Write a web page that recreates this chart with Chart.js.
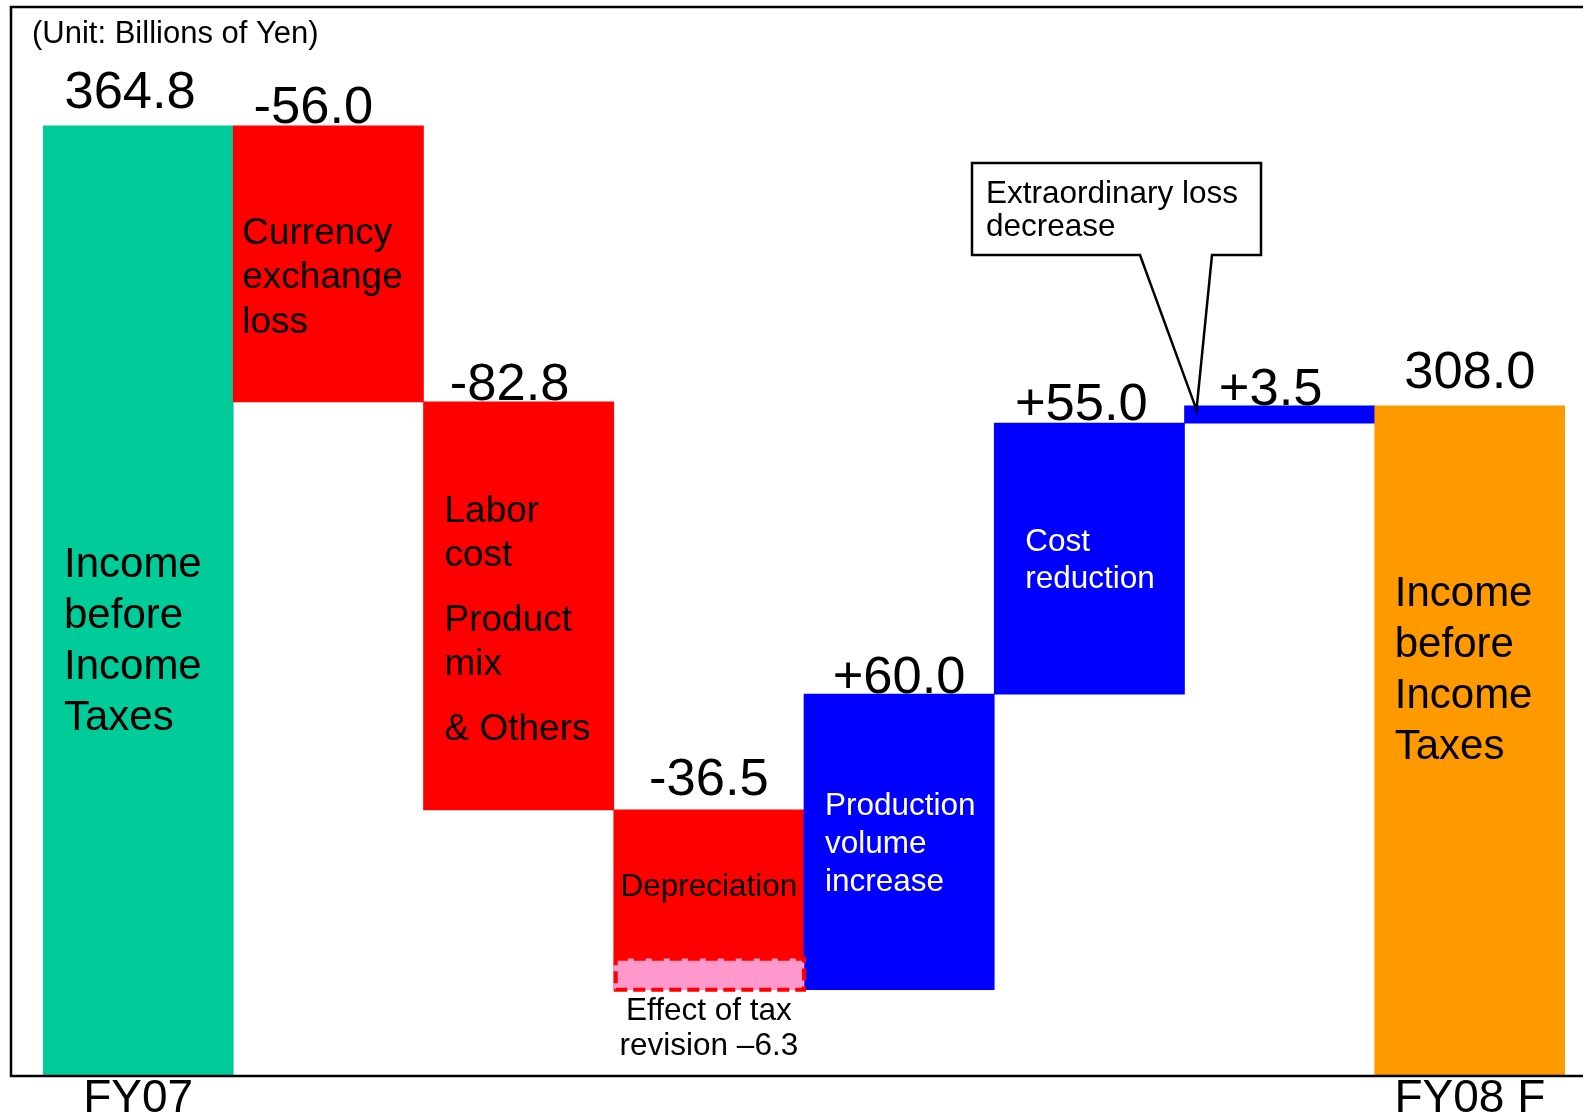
<!DOCTYPE html>
<html>
<head>
<meta charset="utf-8">
<title>Income before Income Taxes: FY07 to FY08 F</title>
<script src="https://cdn.jsdelivr.net/npm/chart.js@4/dist/chart.umd.min.js"></script>
<style>
  html, body { margin: 0; padding: 0; background: #ffffff; }
  #wrap { width: 1583px; height: 1119px; }
</style>
</head>
<body>
<div id="wrap"><canvas id="chart" width="1583" height="1119"></canvas></div>
<script>
// ---- data (billions of yen) ----
const categories = [
  'FY07',
  'Currency exchange loss',
  'Labor cost, Product mix & Others',
  'Depreciation',
  'Production volume increase',
  'Cost reduction',
  'Extraordinary loss decrease',
  'FY08 F'
];
const tickLabels = ['FY07', '', '', '', '', '', '', 'FY08 F'];
const openingTotal = 364.8;
const changes = [-56.0, -82.8, -36.5, 60.0, 55.0, 3.5];
const closingTotal = 308.0;
const taxRevision = -6.3;          // part of the depreciation change
const taxRevisionIndex = 3;        // category that holds it

// ---- styling ----
const FONT = '"Liberation Sans", Arial, Helvetica, sans-serif';
const GREEN = '#00CC99', RED = '#FF0000', BLUE = '#0000FF', ORANGE = '#FF9900', PINK = '#FF99CC';

// value label nudges (px): horizontal shift and lift above bar top
const labelShiftX = [-8, -15, -9, 0, 0, -8, -9, 0];
const labelLift   = [18, 3, 2, 15, 1, 3, 1, 18];

// text printed inside bars
const innerText = [
  { i: 0, paras: [['Income', 'before', 'Income', 'Taxes']], size: 42, lh: 51, color: '#000', dx: 21, frac: 0.54 },
  { i: 1, paras: [['Currency', 'exchange', 'loss']], size: 37, lh: 44.5, color: '#000', dx: 9, frac: 0.54 },
  { i: 2, paras: [['Labor', 'cost'], ['Product', 'mix'], ['& Others']], size: 37, lh: 44, gap: 21, color: '#000', dx: 21, frac: 0.53 },
  { i: 3, paras: [['Depreciation']], size: 31.5, lh: 36, color: '#000', center: true, frac: 0.5, abovePart: true },
  { i: 4, paras: [['Production', 'volume', 'increase']], size: 31.5, lh: 38, color: '#fff', dx: 21, frac: 0.5 },
  { i: 5, paras: [['Cost', 'reduction']], size: 31.5, lh: 37, color: '#fff', dx: 31, frac: 0.5 },
  { i: 7, paras: [['Income', 'before', 'Income', 'Taxes']], size: 42, lh: 51, color: '#000', dx: 20, frac: 0.39 }
];
const taxText = ['Effect of tax', 'revision \u20136.3'];
const calloutText = ['Extraordinary loss', 'decrease'];

// ---- build waterfall ranges from the values ----
const barRanges = [openingTotal];
const barColors = [GREEN];
const valueLabels = [openingTotal.toFixed(1)];
let running = openingTotal;
changes.forEach(d => {
  const from = running, to = running + d;
  barRanges.push([Math.min(from, to), Math.max(from, to)]);
  barColors.push(d < 0 ? RED : BLUE);
  valueLabels.push((d > 0 ? '+' : '') + d.toFixed(1));
  running = to;
});
barRanges.push(closingTotal);
barColors.push(ORANGE);
valueLabels.push(closingTotal.toFixed(1));

// tax-revision slice sits at the bottom of the depreciation bar
const taxRanges = categories.map(() => null);
{
  const dep = barRanges[taxRevisionIndex];
  taxRanges[taxRevisionIndex] = [dep[0], dep[0] - taxRevision];
}

let plotBottom = 0;
function topOf(el) { return Math.min(el.y, el.base); }
function bottomOf(el) { return Math.min(Math.max(el.y, el.base), plotBottom); }

function drawBlock(ctx, spec, left, width, regionTop, regionBottom, firstBaseline) {
  const capH = spec.size * 0.716;
  let span = capH;
  const lines = [];
  spec.paras.forEach(p => {
    p.forEach((t, li) => {
      lines.push({ t, adv: lines.length === 0 ? 0 : (li === 0 ? spec.lh + (spec.gap || 0) : spec.lh) });
    });
  });
  lines.forEach(l => { span += l.adv; });
  let y;
  if (firstBaseline !== undefined) {
    y = firstBaseline;
  } else {
    const centerY = regionTop + spec.frac * (regionBottom - regionTop);
    y = centerY - span / 2 + capH;
  }
  ctx.save();
  ctx.font = spec.size + 'px ' + FONT;
  ctx.fillStyle = spec.color;
  ctx.textBaseline = 'alphabetic';
  ctx.textAlign = spec.center ? 'center' : 'left';
  const x = spec.center ? left + width / 2 : left + spec.dx;
  lines.forEach(l => {
    y += l.adv;
    ctx.fillText(l.t, x, y);
  });
  ctx.restore();
}

const decorations = {
  id: 'decorations',
  afterDatasetsDraw(chart) {
    const ctx = chart.ctx;
    plotBottom = chart.chartArea.bottom;
    const bars = chart.getDatasetMeta(1).data;
    const taxBar = chart.getDatasetMeta(0).data[taxRevisionIndex];

    // dashed outline around the tax-revision slice
    const tL = taxBar.x - taxBar.width / 2, tT = topOf(taxBar), tB = bottomOf(taxBar);
    ctx.save();
    ctx.strokeStyle = RED;
    ctx.lineWidth = 4;
    ctx.setLineDash([12, 6]);
    ctx.strokeRect(tL + 2, tT, taxBar.width - 2, tB - tT);
    ctx.restore();

    // frame: top, left and baseline
    ctx.save();
    ctx.strokeStyle = '#000';
    ctx.lineWidth = 2.5;
    ctx.beginPath();
    ctx.moveTo(1583, 7); ctx.lineTo(11, 7); ctx.lineTo(11, plotBottom); ctx.lineTo(1583, plotBottom);
    ctx.stroke();
    ctx.restore();

    // unit note
    ctx.save();
    ctx.font = '31px ' + FONT;
    ctx.fillStyle = '#000';
    ctx.textBaseline = 'alphabetic';
    ctx.fillText('(Unit: Billions of Yen)', 32, 43);
    ctx.restore();

    // value labels above each bar
    ctx.save();
    ctx.font = '52.5px ' + FONT;
    ctx.fillStyle = '#000';
    ctx.textAlign = 'center';
    ctx.textBaseline = 'alphabetic';
    bars.forEach((el, i) => {
      ctx.fillText(valueLabels[i], el.x + labelShiftX[i], topOf(el) - labelLift[i]);
    });
    ctx.restore();

    // text inside bars
    innerText.forEach(spec => {
      const el = bars[spec.i];
      const left = el.x - el.width / 2;
      const bottom = spec.abovePart ? tT : bottomOf(el);
      drawBlock(ctx, spec, left, el.width, topOf(el), bottom);
    });

    // tax-revision caption, set just under its slice
    drawBlock(ctx, { paras: [taxText], size: 31.5, lh: 35, color: '#000', center: true },
      tL, taxBar.width, tT, tB, tB + 30);

    // callout pointing at the extraordinary-loss bar
    const eb = bars[6];
    const tipX = eb.x - eb.width / 2 + 12, tipY = topOf(eb) + 4;
    const bx0 = 972, bx1 = 1261, by0 = 163, by1 = 255;
    ctx.save();
    ctx.beginPath();
    ctx.moveTo(bx0, by0); ctx.lineTo(bx1, by0); ctx.lineTo(bx1, by1);
    ctx.lineTo(1212, by1); ctx.lineTo(tipX, tipY); ctx.lineTo(1140, by1);
    ctx.lineTo(bx0, by1); ctx.closePath();
    ctx.fillStyle = '#fff';
    ctx.fill();
    ctx.strokeStyle = '#000';
    ctx.lineWidth = 2.5;
    ctx.lineJoin = 'miter';
    ctx.stroke();
    ctx.font = '31.5px ' + FONT;
    ctx.fillStyle = '#000';
    ctx.fillText(calloutText[0], 986, 203);
    ctx.fillText(calloutText[1], 986, 236);
    ctx.restore();
  }
};

new Chart(document.getElementById('chart'), {
  type: 'bar',
  data: {
    labels: categories,
    datasets: [
      {
        label: 'Effect of tax revision',
        data: taxRanges,
        backgroundColor: PINK,
        borderWidth: 0,
        grouped: false,
        barPercentage: 1,
        categoryPercentage: 1,
        order: 0
      },
      {
        label: 'Income before income taxes',
        data: barRanges,
        backgroundColor: barColors,
        borderWidth: 0,
        grouped: false,
        barPercentage: 1,
        categoryPercentage: 1,
        order: 1
      }
    ]
  },
  options: {
    responsive: false,
    animation: false,
    devicePixelRatio: 1,
    layout: { padding: { left: 43, right: 18, top: 51, bottom: 0 } },
    plugins: { legend: { display: false }, tooltip: { enabled: false } },
    scales: {
      x: {
        grid: { display: false, drawTicks: false },
        border: { display: false },
        ticks: {
          callback: (v, i) => tickLabels[i],
          font: { family: FONT, size: 46, lineHeight: 1 },
          color: '#000',
          padding: 0,
          maxRotation: 0,
          minRotation: 0,
          autoSkip: false
        },
        afterFit: s => { s.height = 43; }
      },
      y: {
        display: false,
        min: 172,
        max: 380
      }
    }
  },
  plugins: [decorations]
});
</script>
</body>
</html>
